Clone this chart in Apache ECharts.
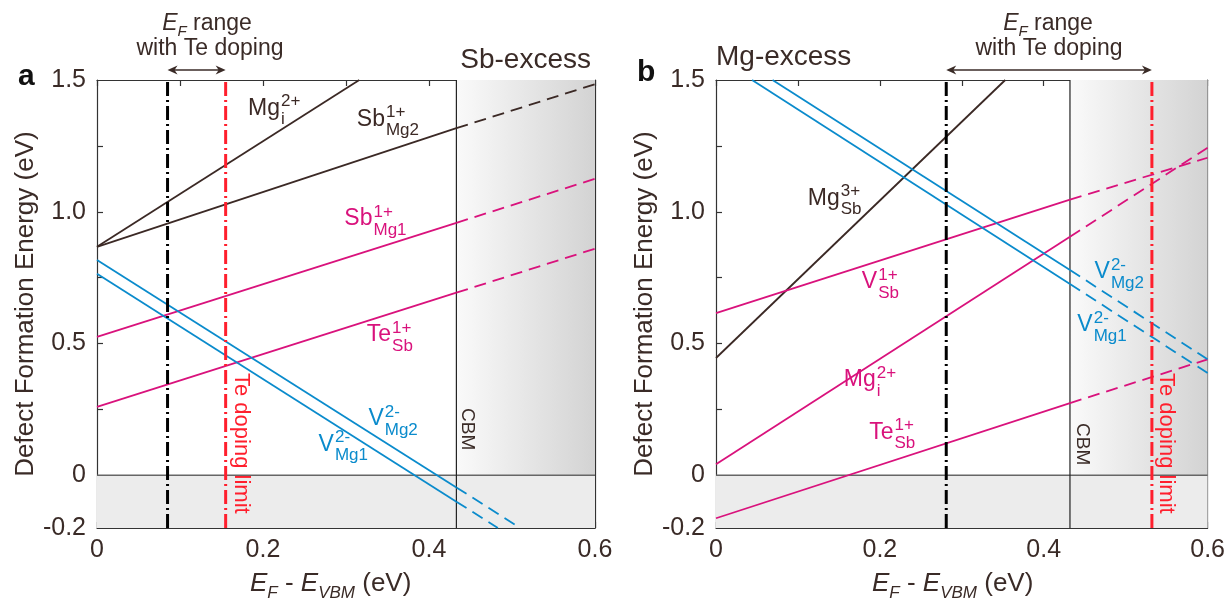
<!DOCTYPE html>
<html>
<head>
<meta charset="utf-8">
<script src="https://cdn.jsdelivr.net/npm/echarts@6/dist/echarts.min.js"></script>
<style>
  html, body { margin: 0; background: #fff; }
  #main { width: 1228px; height: 598px; }
</style>
</head>
<body>
<div id="main"></div>
<script>
const FONT = '"Liberation Sans", Arial, sans-serif'
const INK = '#3a2b27'
const FRAME = '#333'
const BROWN = '#3b2925'
const PINK = '#d9127c'
const BLUE = '#0a8bcc'
const RED = '#ff1f2d'

// axis values
const xLabelVals = [0, 0.2, 0.4, 0.6]
const yLabelVals = [-0.2, 0, 0.5, 1.0, 1.5]
const yTickVals = [0.25, 0.5, 0.75, 1.0, 1.25]

// panel a: Sb-excess
const cbmA = 0.433
const efA = 0.085      // E_F with Te doping (black)
const limitA = 0.155   // Te doping limit (red)
const mgIA = [[0, 0.867], [0.316, 1.5]]
const sbMg2A = [[0, 0.867], [0.433, 1.317], [0.6, 1.484]]
const sbMg1A = [[0, 0.525], [0.433, 0.958], [0.6, 1.125]]
const teSbA = [[0, 0.26], [0.433, 0.693], [0.6, 0.86]]
const vMg2A = [[0, 0.817], [0.433, -0.046], [0.51, -0.2]]
const vMg1A = [[0, 0.765], [0.433, -0.1], [0.483, -0.2]]

// panel b: Mg-excess
const cbmB = 0.432
const efB = 0.281
const limitB = 0.532
const mgSbB = [[0, 0.445], [0.353, 1.5]]
const vSbB = [[0, 0.615], [0.432, 1.046], [0.6, 1.205]]
const mgIB = [[0, 0.042], [0.432, 0.905], [0.6, 1.243]]
const teSbB = [[0, -0.163], [0.432, 0.274], [0.6, 0.44]]
const vMg2B = [[0.069, 1.5], [0.432, 0.779], [0.6, 0.44]]
const vMg1B = [[0.044, 1.5], [0.432, 0.726], [0.6, 0.388]]

// defect labels: main, superscript, subscript, colour, x, y (baseline)
const labelsA = [
  ['Mg', '2+', 'i', BROWN, 0.182, 1.361],
  ['Sb', '1+', 'Mg2', BROWN, 0.313, 1.319],
  ['Sb', '1+', 'Mg1', PINK, 0.298, 0.943],
  ['Te', '1+', 'Sb', PINK, 0.325, 0.502],
  ['V', '2-', 'Mg2', BLUE, 0.327, 0.183],
  ['V', '2-', 'Mg1', BLUE, 0.267, 0.087]
]
const labelsB = [
  ['Mg', '3+', 'Sb', BROWN, 0.112, 1.019],
  ['V', '1+', 'Sb', PINK, 0.178, 0.703],
  ['Mg', '2+', 'i', PINK, 0.156, 0.331],
  ['Te', '1+', 'Sb', PINK, 0.187, 0.133],
  ['V', '2-', 'Mg2', BLUE, 0.462, 0.741],
  ['V', '2-', 'Mg1', BLUE, 0.441, 0.54]
]

const grids = [
  { left: 97, top: 80, width: 498, height: 448 },
  { left: 716, top: 80, width: 496, height: 448 }
]

function fmt(v) {
  return v === 0 ? '0' : v.toFixed(1)
}

function xAxes(g) {
  const base = {
    type: 'value', gridIndex: g, min: 0, max: 0.6, interval: 0.1,
    splitLine: { show: false },
    axisLine: { show: true, onZero: false, lineStyle: { color: FRAME, width: 1.2 } },
    axisTick: { inside: true, length: 6, lineStyle: { color: FRAME, width: 1.2 } }
  }
  return [
    { ...base, position: 'bottom',
      axisLabel: { customValues: xLabelVals, formatter: fmt, fontSize: 25, color: INK, fontFamily: FONT, margin: 10 } },
    { ...base, position: 'top', axisLabel: { show: false } }
  ]
}

function yAxes(g) {
  const base = {
    type: 'value', gridIndex: g, min: -0.2, max: 1.5,
    splitLine: { show: false },
    axisLine: { show: true, onZero: false, lineStyle: { color: FRAME, width: 1.2 } },
    axisTick: { inside: true, length: 6, customValues: yTickVals, lineStyle: { color: FRAME, width: 1.2 } }
  }
  return [
    { ...base, position: 'left',
      name: 'Defect Formation Energy (eV)', nameLocation: 'middle', nameGap: 58,
      nameTextStyle: { fontSize: 26, color: INK, fontFamily: FONT },
      axisLabel: { customValues: yLabelVals, formatter: fmt, fontSize: 25, color: INK, fontFamily: FONT, margin: 11 } },
    { ...base, position: 'right', axisLabel: { show: false } }
  ]
}

function segs(pts, cbm, color, g) {
  const common = { type: 'line', xAxisIndex: 2 * g, yAxisIndex: 2 * g, symbol: 'none', silent: true, z: 3 }
  const solid = pts.filter(p => p[0] <= cbm + 1e-9)
  const dashed = pts.filter(p => p[0] >= cbm - 1e-9)
  const out = []
  if (solid.length > 1) out.push({ ...common, data: solid, lineStyle: { color, width: 1.8 } })
  if (dashed.length > 1) out.push({ ...common, data: dashed, lineStyle: { color, width: 1.8, type: [12, 7] } })
  return out
}

function frameSeries(g, cbm, ef, limit) {
  const common = { type: 'line', xAxisIndex: 2 * g, yAxisIndex: 2 * g, symbol: 'none', silent: true }
  return [
    { ...common, z: 1, data: [[0, 0], [0.6, 0]], lineStyle: { color: '#666', width: 1.5 },
      markArea: {
        silent: true,
        data: [
          [{ xAxis: 0, yAxis: -0.2, itemStyle: { color: '#ececec', opacity: 1 } }, { xAxis: 0.6, yAxis: 0 }],
          [{ xAxis: cbm, yAxis: 0, itemStyle: {
              opacity: 1,
              color: new echarts.graphic.LinearGradient(0, 0, 1, 0, [
                { offset: 0, color: '#fafafa' }, { offset: 1, color: '#d3d3d3' }
              ]) } },
           { xAxis: 0.6, yAxis: 1.5 }]
        ]
      } },
    { ...common, z: 2, data: [[cbm, -0.2], [cbm, 1.5]], lineStyle: { color: '#222', width: 1.2 } },
    { ...common, z: 5, data: [[ef, -0.2], [ef, 1.5]], lineStyle: { color: '#000', width: 3, type: [14, 4, 2, 4] } },
    { ...common, z: 5, data: [[limit, -0.2], [limit, 1.5]], lineStyle: { color: RED, width: 3, type: [14, 4, 2, 4] } }
  ]
}

const series = [
  ...frameSeries(0, cbmA, efA, limitA),
  ...segs(mgIA, cbmA, BROWN, 0),
  ...segs(sbMg2A, cbmA, BROWN, 0),
  ...segs(sbMg1A, cbmA, PINK, 0),
  ...segs(teSbA, cbmA, PINK, 0),
  ...segs(vMg2A, cbmA, BLUE, 0),
  ...segs(vMg1A, cbmA, BLUE, 0),
  ...frameSeries(1, cbmB, efB, limitB),
  ...segs(mgSbB, cbmB, BROWN, 1),
  ...segs(vSbB, cbmB, PINK, 1),
  ...segs(mgIB, cbmB, PINK, 1),
  ...segs(teSbB, cbmB, PINK, 1),
  ...segs(vMg2B, cbmB, BLUE, 1),
  ...segs(vMg1B, cbmB, BLUE, 1)
]

const chart = echarts.init(document.getElementById('main'))
chart.setOption({
  animation: false,
  grid: grids,
  xAxis: [...xAxes(0), ...xAxes(1)],
  yAxis: [...yAxes(0), ...yAxes(1)],
  series
})

// text helpers
const ctx = document.createElement('canvas').getContext('2d')
function font(size, style) {
  return (style ? style + ' ' : '') + size + 'px ' + FONT
}
function tw(text, f) {
  ctx.font = f
  return ctx.measureText(text).width
}
function txt(text, x, base, size, color, opts) {
  opts = opts || {}
  const f = font(size, opts.style)
  return {
    type: 'text', x, y: base - 0.35 * size, z: 100, silent: true,
    style: { text, font: f, fill: color, textAlign: opts.align || 'left', textVerticalAlign: 'middle' }
  }
}
// a run of pieces on one baseline: [text, size, dy, style]
function run(parts, x, base, color, center) {
  let w = 0
  parts.forEach(p => { w += tw(p[0], font(p[1], p[3])) })
  let cx = center ? x - w / 2 : x
  return parts.map(p => {
    const el = txt(p[0], cx, base + p[2], p[1], color, { style: p[3] })
    cx += tw(p[0], font(p[1], p[3]))
    return el
  })
}
function defectLabel(l, g) {
  const pt = chart.convertToPixel({ xAxisIndex: 2 * g, yAxisIndex: 2 * g }, [l[4], l[5]])
  const size = 23
  const small = 17
  const sx = pt[0] + tw(l[0], font(size)) + 1
  return [
    txt(l[0], pt[0], pt[1], size, l[3]),
    txt(l[1], sx, pt[1] - 9, small, l[3]),
    txt(l[2], sx, pt[1] + 9, small, l[3])
  ]
}
function rotated(text, x, y, size, color) {
  return {
    type: 'text', x, y, rotation: -Math.PI / 2, z: 100, silent: true,
    style: { text, font: font(size), fill: color, textAlign: 'left', textVerticalAlign: 'middle' }
  }
}
function arrow(x1, x2, y) {
  const h = 10, w = 4.5
  return [
    { type: 'line', silent: true, shape: { x1: x1 + 3, y1: y, x2: x2 - 3, y2: y }, style: { stroke: INK, lineWidth: 1.6 } },
    { type: 'polygon', silent: true, shape: { points: [[x1, y], [x1 + h, y - w], [x1 + h - 3, y], [x1 + h, y + w]] }, style: { fill: INK } },
    { type: 'polygon', silent: true, shape: { points: [[x2, y], [x2 - h, y - w], [x2 - h + 3, y], [x2 - h, y + w]] }, style: { fill: INK } }
  ]
}

const px = (g, x) => chart.convertToPixel({ xAxisIndex: 2 * g, yAxisIndex: 2 * g }, [x, 0])[0]
const els = []
labelsA.forEach(l => els.push(...defectLabel(l, 0)))
labelsB.forEach(l => els.push(...defectLabel(l, 1)))

// rotated CBM / doping-limit labels
els.push(rotated('CBM', px(0, cbmA) + 11, 408, 19, INK))
els.push(rotated('CBM', px(1, cbmB) + 12, 423, 19, INK))
els.push(rotated('Te doping limit', px(0, limitA) + 15, 373, 22, RED))
els.push(rotated('Te doping limit', px(1, limitB) + 14, 373, 22, RED))

// E_F range annotations
const rangeParts = [['E', 23, 0, 'italic'], ['F', 15, 5, 'italic'], [' range', 23, 0]]
els.push(...run(rangeParts, 207, 32, INK, true))
els.push(...run([['with Te doping', 23, 0]], 210, 57, INK, true))
els.push(...arrow(px(0, efA), px(0, limitA), 70))
els.push(...run(rangeParts, 1048, 32, INK, true))
els.push(...run([['with Te doping', 23, 0]], 1049, 57, INK, true))
els.push(...arrow(px(1, efB), px(1, limitB), 70))

// panel titles and letters
els.push(txt('Sb-excess', 591, 70, 28, INK, { align: 'right' }))
els.push(txt('Mg-excess', 716, 67, 28, INK))
els.push(txt('a', 18, 87, 30, '#111', { style: 'bold' }))
els.push(txt('b', 637, 83, 30, '#111', { style: 'bold' }))

// x axis titles
const xTitle = [['E', 26, 0, 'italic'], ['F', 17, 6, 'italic'], [' - ', 26, 0], ['E', 26, 0, 'italic'], ['VBM', 17, 6, 'italic'], [' (eV)', 26, 0]]
els.push(...run(xTitle, 250, 593, INK, false))
els.push(...run(xTitle, 872, 593, INK, false))

chart.setOption({ graphic: { elements: els } })
</script>
</body>
</html>
